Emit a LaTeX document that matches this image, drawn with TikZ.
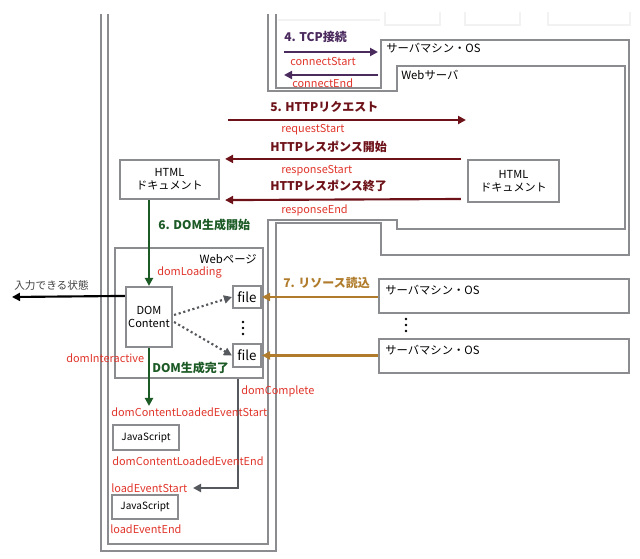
\documentclass[tikz,border=0pt]{standalone}
\usepackage{fontspec}
\setmainfont{Noto Sans CJK JP}
\usetikzlibrary{arrows.meta,calc}
\definecolor{frm}{HTML}{8A8C8F}
\definecolor{lbl}{HTML}{E0352B}
\definecolor{tcpc}{HTML}{4B2A5E}
\definecolor{httpc}{HTML}{6E1219}
\definecolor{domc}{HTML}{1C5A26}
\definecolor{resc}{HTML}{B07C2C}
\definecolor{dgray}{HTML}{55585C}
\begin{document}
\begin{tikzpicture}[x=0.75pt,y=-0.75pt,
  frame/.style={draw=frm,line width=1.8pt},
  faint/.style={draw=black!5,line width=1.5pt},
  box/.style={draw=frm,line width=1.6pt,fill=white,inner sep=0pt,align=center,font=\fontsize{8.3}{10}\selectfont},
  evt/.style={text=lbl,font=\fontsize{8.2}{10}\selectfont,inner sep=0pt,anchor=west},
  head/.style={font=\bfseries\fontsize{9}{11}\selectfont,inner sep=0pt,anchor=west},
  tip/.style={-{Triangle[length=6pt,width=6pt]}},
  arr/.style={tip,line width=1.6pt},
  dots/.style={fill=black}]
\useasboundingbox (0,0) rectangle (640,559);
% faint remnants at the top
\draw[faint] (278,20) -- (380,20);
\draw[faint] (385,12) -- (385,25) -- (440,25) -- (440,12);
\draw[faint] (465,12) -- (465,25) -- (520,25) -- (520,12);
\draw[faint] (548,12) -- (548,25) -- (630,25) -- (630,12);
% browser frame and server frame (outer and inner walls)
\draw[frame] (101,14) -- (101,551) -- (276,551) -- (276,223) -- (381,223) -- (381,255)
  -- (629,255) -- (629,40) -- (381,40) -- (381,88) -- (276,88) -- (276,14);
\draw[frame] (108,14) -- (108,544) -- (268,544) -- (268,220) -- (397,220) -- (397,229)
  -- (625,229) -- (625,66) -- (397,66) -- (397,91) -- (268,91) -- (268,14);
\node[anchor=west,inner sep=0pt,font=\fontsize{8.5}{10}\selectfont] (osTop) at (386,48) {サーバマシン・OS};
\node[anchor=west,inner sep=0pt,font=\fontsize{8.5}{10}\selectfont] (websrv) at (401,75) {Webサーバ};
% boxes
\node[box,minimum width=99*0.75pt,minimum height=39*0.75pt] (htmlB) at (169.5,179.5) {HTML\\ドキュメント};
\node[box,minimum width=91*0.75pt,minimum height=42*0.75pt] (htmlS) at (513.5,181) {HTML\\ドキュメント};
\node[box,minimum width=148*0.75pt,minimum height=130*0.75pt] (page) at (189,313) {};
\node[anchor=east,inner sep=0pt,font=\fontsize{8.5}{10}\selectfont] (pageLbl) at (257,259) {Webページ};
\node[box,minimum width=46*0.75pt,minimum height=60*0.75pt] (dom) at (149,317) {DOM\\Content};
\node[box,minimum width=28*0.75pt,minimum height=22*0.75pt,font=\fontsize{10}{12}\selectfont] (file1) at (247,297) {file};
\node[box,minimum width=28*0.75pt,minimum height=23*0.75pt,font=\fontsize{10}{12}\selectfont] (file2) at (247,355.5) {file};
\node[box,minimum width=250*0.75pt,minimum height=34*0.75pt] (srv1) at (504,296) {};
\node[anchor=west,inner sep=0pt,font=\fontsize{8.5}{10}\selectfont] (srv1Lbl) at (385,290) {サーバマシン・OS};
\node[box,minimum width=250*0.75pt,minimum height=34*0.75pt] (srv2) at (504,356) {};
\node[anchor=west,inner sep=0pt,font=\fontsize{8.5}{10}\selectfont] (srv2Lbl) at (385,350) {サーバマシン・OS};
\node[box,minimum width=66*0.75pt,minimum height=25*0.75pt,font=\fontsize{7.5}{9}\selectfont] (js1) at (146,437.5) {JavaScript};
\node[box,minimum width=66*0.75pt,minimum height=24*0.75pt,font=\fontsize{7.5}{9}\selectfont] (js2) at (145,507) {JavaScript};
% vertical dots
\foreach \yy in {322,328,334} \fill[dots] (243,\yy) circle (1.3);
\foreach \yy in {319,325,331} \fill[dots] (406,\yy) circle (1.3);
% 4. TCP
\node[head,text=tcpc] (tcp) at (284,37) {4. TCP接続};
\coordinate (tcpL1) at (284,52); \coordinate (tcpR1) at (378,52);
\coordinate (tcpL2) at (284,75); \coordinate (tcpR2) at (378,75);
\draw[arr,tcpc] (tcpL1) -- (tcpR1);
\draw[arr,tcpc] (tcpR2) -- (tcpL2);
\node[evt] (cS) at (290,61) {connectStart};
\node[evt] (cE) at (292,83) {connectEnd};
% 5. HTTP
\node[head,text=httpc] (http) at (270,107) {5. HTTPリクエスト};
\coordinate (reqS) at (228,120); \coordinate (reqE) at (466,120);
\draw[arr,httpc] (reqS) -- (reqE);
\node[evt] (rqS) at (281,130) {requestStart};
\node[head,text=httpc] (resS) at (270,147) {HTTPレスポンス開始};
\draw[arr,httpc] ($(htmlS.north west)+(-6,0)$) -- ($(htmlB.north east)+(5,0)$);
\node[evt] (rsS) at (281,171) {responseStart};
\node[head,text=httpc] (resE) at (270,186) {HTTPレスポンス終了};
\draw[arr,httpc] ($(htmlS.west)+(-6,18)$) -- ($(htmlB.south east)+(5,0)$);
\node[evt] (rsE) at (281,210) {responseEnd};
% 6. DOM
\node[head,text=domc] (domStart) at (158,225) {6. DOM生成開始};
\draw[arr,domc] (dom.north |- htmlB.south) -- (dom.north);
\node[evt] (dL) at (157,273) {domLoading};
\coordinate (inputEnd) at (12,297);
\draw[arr,black] ($(dom.north west)+(0,10)$) -- (inputEnd);
\node[anchor=west,inner sep=0pt,font=\fontsize{8}{10}\selectfont,text=black!75] (input) at (14,285) {入力できる状態};
\draw[tip,dotted,line width=1.6pt,dgray] ($(dom.east)+(1,-2)$) -- (file1.west);
\draw[tip,dotted,line width=1.6pt,dgray] ($(dom.east)+(1,5)$) -- (file2.west);
\node[evt] (dI) at (66,358) {domInteractive};
\node[head,text=domc] (domEnd) at (152,368) {DOM生成完了};
\coordinate (dclS) at (149,406);
\draw[arr,domc] (dom.south) -- (dclS);
% 7. resources
\node[head,text=resc] (res) at (283,283) {7. リソース読込};
\draw[arr,resc] (srv1.west |- file1.east) -- (file1.east);
\draw[arr,resc] (srv2.west |- file2.east) -- (file2.east);
% domComplete
\coordinate (dcEnd) at (193,488);
\draw[arr,dgray] ($(page.south east)+(-26,0)$) |- (dcEnd);
\node[evt] (dC) at (241,391) {domComplete};
\node[evt] (dclSL) at (111,412) {domContentLoadedEventStart};
\node[evt] (dclEL) at (112,461) {domContentLoadedEventEnd};
\node[evt] (lS) at (111,488) {loadEventStart};
\node[evt] (lE) at (110,529) {loadEventEnd};
\end{tikzpicture}
\end{document}
